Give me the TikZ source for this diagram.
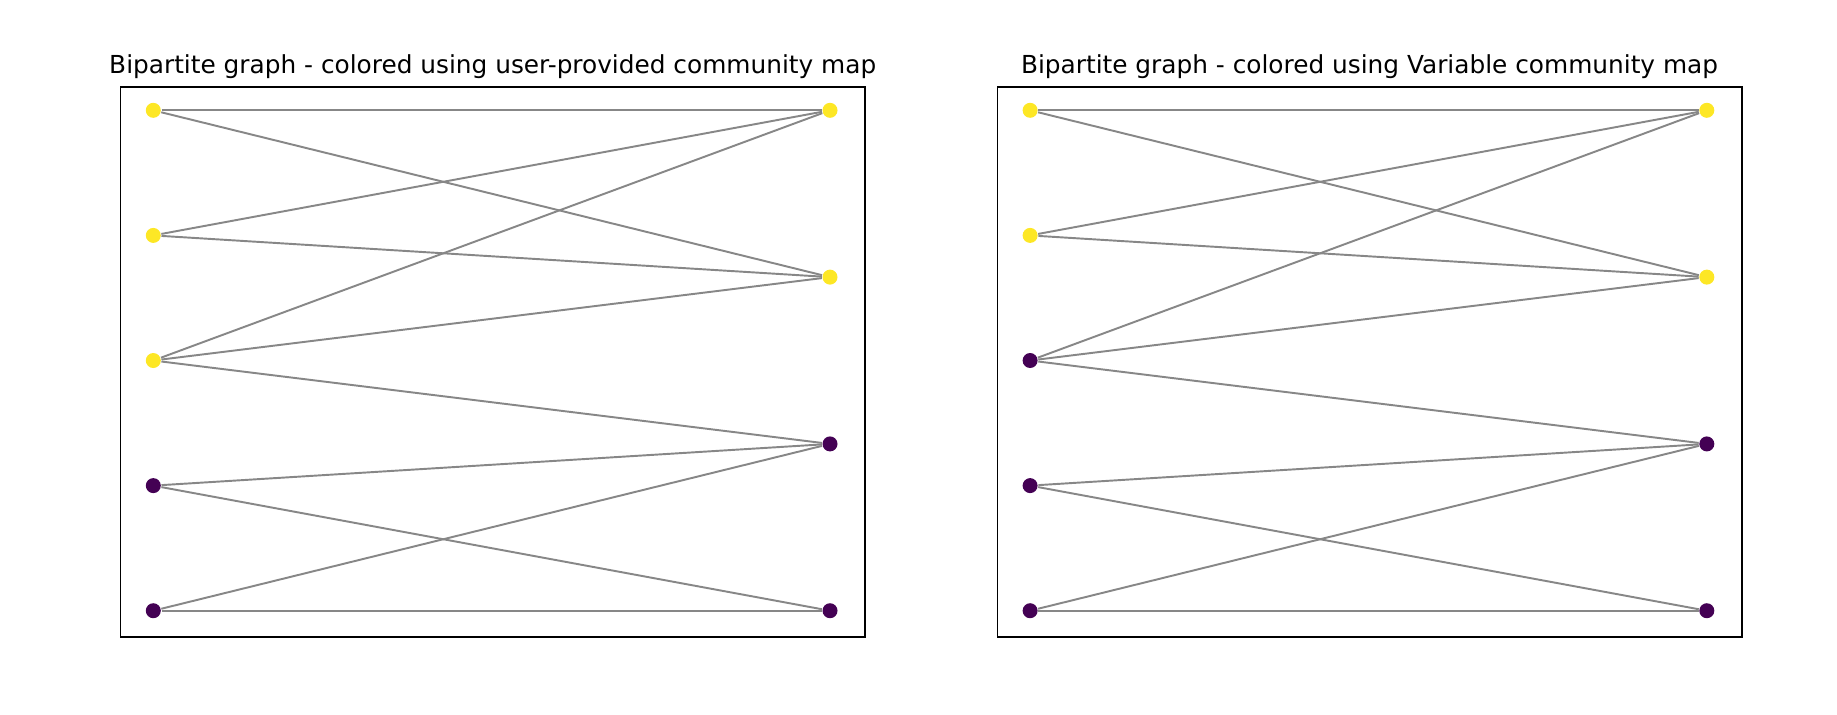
\documentclass[tikz,border=0pt]{standalone}
\usepackage{fontspec}
\setmainfont{DejaVu Sans}
\usepackage{tikz}
\definecolor{Vyel}{RGB}{253,231,37}
\definecolor{Vpur}{RGB}{68,1,84}
\tikzset{
  dot/.style={circle, inner sep=0pt, minimum size=0.15cm},
  edge/.style={draw=black!47, line width=0.55pt},
  panel/.style={draw=black, line width=0.45pt, minimum width=7.44cm, minimum height=5.497cm, inner sep=0pt},
  ttl/.style={font=\fontsize{7.05pt}{8.5pt}\selectfont, inner sep=0pt, anchor=base}
}

\begin{document}
\begin{tikzpicture}[x=0.01cm, y=-0.01cm]
    \useasboundingbox (0,0) rectangle (1837,714);
    \foreach \p/\dx/\cthree/\mapname in {a/0/Vyel/user-provided, b/876.8/Vpur/Variable}{
      \begin{scope}[shift={(\dx,0)}]
        \node [panel] (\p box) at (492.7,361.85) {};
        \node [ttl] (\p title) at (492.7,73.3)
            {Bipartite graph - colored using \mapname{} community map};
        % left side, five nodes
        \foreach \i/\y/\c in {1/110.3/Vyel, 2/235.4/Vyel, 3/360.5/\cthree, 4/485.6/Vpur, 5/610.7/Vpur}
            \node [dot, fill=\c] (\p L\i) at (153.3,\y) {};
        % right side, four nodes
        \foreach \i/\y/\c in {1/110.3/Vyel, 2/277.1/Vyel, 3/443.9/Vpur, 4/610.7/Vpur}
            \node [dot, fill=\c] (\p R\i) at (830,\y) {};
        \foreach \l/\r in {1/1, 1/2, 2/1, 2/2, 3/1, 3/2, 3/3, 4/3, 4/4, 5/3, 5/4}
            \draw [edge] (\p L\l) -- (\p R\r);
      \end{scope}
    }
\end{tikzpicture}
\end{document}
